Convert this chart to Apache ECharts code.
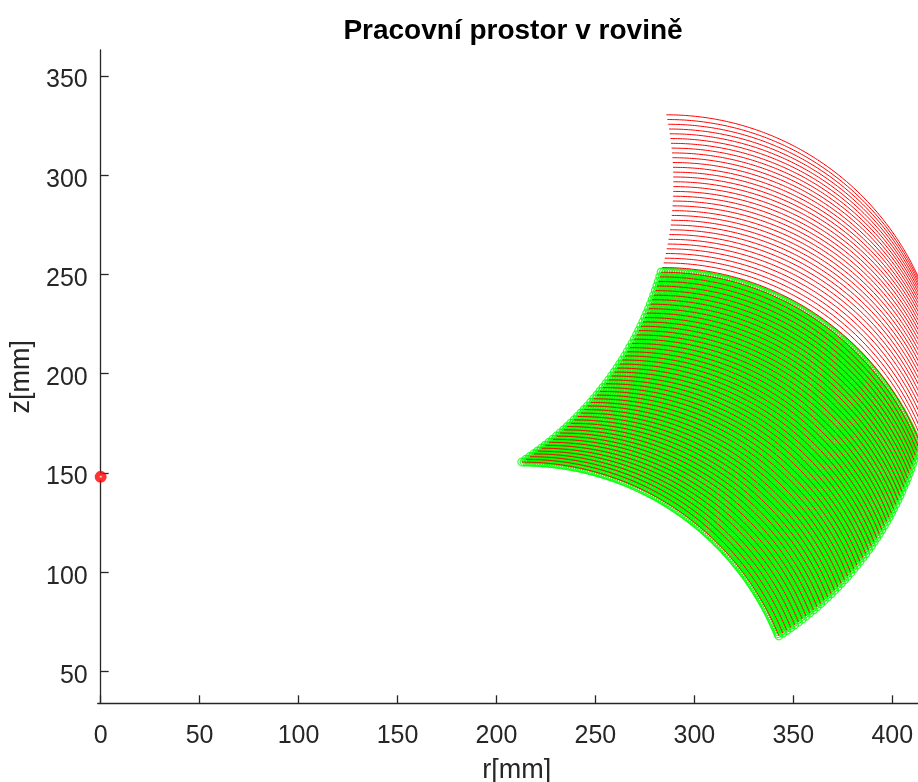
<!DOCTYPE html>
<html><head><meta charset="utf-8">
<script src="https://cdn.jsdelivr.net/npm/echarts@6/dist/echarts.min.js"></script>
<style>html,body{margin:0;padding:0;background:#fff}#c{width:918px;height:782px}</style>
</head><body><div id="c"></div>
<script>
// Mechanism (mm, degrees)
const shoulder = [121.8, 156.2];
const link1 = 167.6;
const link2 = 140;
// first-link angle of each drawn arc
const alphaDeg = [-57.10,-56.27,-55.44,-54.61,-53.78,-52.95,-52.12,-51.29,-50.46,-49.63,-48.80,-47.97,-47.14,-46.31,-45.48,-44.65,-43.82,-42.99,-42.16,-41.33,-40.50,-39.67,-38.84,-38.01,-37.18,-36.35,-35.52,-34.69,-33.86,-33.03,-32.20,-31.37,-30.54,-29.71,-28.88,-28.05,-27.22,-26.39,-25.56,-24.73,-23.90,-23.07,-22.24,-21.41,-20.58,-19.75,-18.92,-18.09,-17.26,-16.43,-15.60,-14.77,-13.94,-13.11,-12.28,-11.45,-10.62,-9.79,-8.96,-8.13,-7.30,-6.47,-5.64,-4.81,-3.98,-3.15,-2.32,-1.49,-0.66,0.17,1.00,1.83,2.66,3.49,4.32,5.15,5.98,6.81,7.64,8.47,9.30,10.13,10.96,11.79];
// arcs whose first-link angle is within this limit are marked green
const greenAlphaMax = -15.5;
// second-link angle along each arc
const betaDeg = [22,22.5,23,23.5,24,24.5,25,25.5,26,26.5,27,27.5,28,28.5,29,29.5,30,30.5,31,31.5,32,32.5,33,33.5,34,34.5,35,35.5,36,36.5,37,37.5,38,38.5,39,39.5,40,40.5,41,41.5,42,42.5,43,43.5,44,44.5,45,45.5,46,46.5,47,47.5,48,48.5,49,49.5,50,50.5,51,51.5,52,52.5,53,53.5,54,54.5,55,55.5,56,56.5,57,57.5,58,58.5,59,59.5,60,60.5,61,61.5,62,62.5,63,63.5,64,64.5,65,65.5,66,66.5,67,67.5,68,68.5,69,69.5,70,70.5,71,71.5,72,72.5,73,73.5,74,74.5,75,75.5,76,76.5,77,77.5,78,78.5,79,79.5,80,80.5,81,81.5,82,82.5,83,83.5,84,84.5,85,85.5,86,86.5,87,87.5,88,88.5,89,89.5,90];
const basePoint = [[0, 148]];
const xTicks = [0,50,100,150,200,250,300,350,400];
const yTicks = [50,100,150,200,250,300,350];

const FONT = 'Liberation Sans, Arial, Helvetica, sans-serif';
const AX = '#262626';
const rad = d => d * Math.PI / 180;
function tip(a, b) {
  return [shoulder[0] + link1 * Math.cos(rad(a)) + link2 * Math.cos(rad(b)),
          shoulder[1] + link1 * Math.sin(rad(a)) + link2 * Math.sin(rad(b))];
}

const series = [];
const greenPts = [];
alphaDeg.forEach(a => { if (a <= greenAlphaMax) betaDeg.forEach(b => greenPts.push(tip(a, b))); });
series.push({
  type: 'scatter', data: greenPts, symbol: 'circle', symbolSize: 8,
  itemStyle: { color: 'rgba(0,0,0,0)', borderColor: '#00ff00', borderWidth: 1.2 },
  large: false, silent: true, animation: false, z: 2
});
alphaDeg.forEach(a => {
  series.push({
    type: 'line', data: betaDeg.map(b => tip(a, b)), showSymbol: false, symbol: 'none',
    lineStyle: { color: '#ff0000', width: 1 }, clip: true, silent: true, animation: false, z: 3
  });
});
series.push({
  type: 'scatter', data: basePoint, symbol: 'circle', symbolSize: 7,
  itemStyle: { color: '#ffffff', borderColor: '#ff0000', borderWidth: 5 },
  silent: true, animation: false, z: 4, clip: false
});

const chart = echarts.init(document.getElementById('c'), null, { renderer: 'canvas' });
chart.setOption({
  animation: false,
  backgroundColor: '#ffffff',
  grid: { left: 97.7, top: 50, right: 0, bottom: 78.7, containLabel: false, outerBoundsMode: 'none' },
  xAxis: {
    type: 'value', min: -1.5, max: 413, minInterval: 50, maxInterval: 50,
    name: 'r[mm]', nameLocation: 'middle', nameGap: 54,
    nameTextStyle: { fontFamily: FONT, fontSize: 27, color: AX, padding: [0, 0, 0, 18] },
    axisLine: { show: true, lineStyle: { color: AX, width: 1.3 } },
    axisTick: { show: true, inside: true, length: 8, customValues: xTicks, lineStyle: { color: AX, width: 1.3 } },
    axisLabel: { fontFamily: FONT, fontSize: 25, color: AX, margin: 20, customValues: xTicks },
    splitLine: { show: false }
  },
  yAxis: {
    type: 'value', min: 33.9, max: 363.1, minInterval: 50, maxInterval: 50,
    name: 'z[mm]', nameLocation: 'middle', nameGap: 54,
    nameTextStyle: { fontFamily: FONT, fontSize: 27, color: AX },
    axisLine: { show: true, lineStyle: { color: AX, width: 1.3 } },
    axisTick: { show: true, inside: true, length: 8, customValues: yTicks, lineStyle: { color: AX, width: 1.3 } },
    axisLabel: { fontFamily: FONT, fontSize: 25, color: AX, margin: 10, verticalAlign: 'top', lineHeight: 9, customValues: yTicks },
    splitLine: { show: false }
  },
  graphic: [{
    type: 'text', x: 513, y: 31,
    style: { text: 'Pracovní prostor v rovině', font: 'bold 28px ' + FONT, fill: '#000',
             align: 'center', verticalAlign: 'middle', textAlign: 'center', textVerticalAlign: 'middle' }
  }],
  series: series
});
</script></body></html>
